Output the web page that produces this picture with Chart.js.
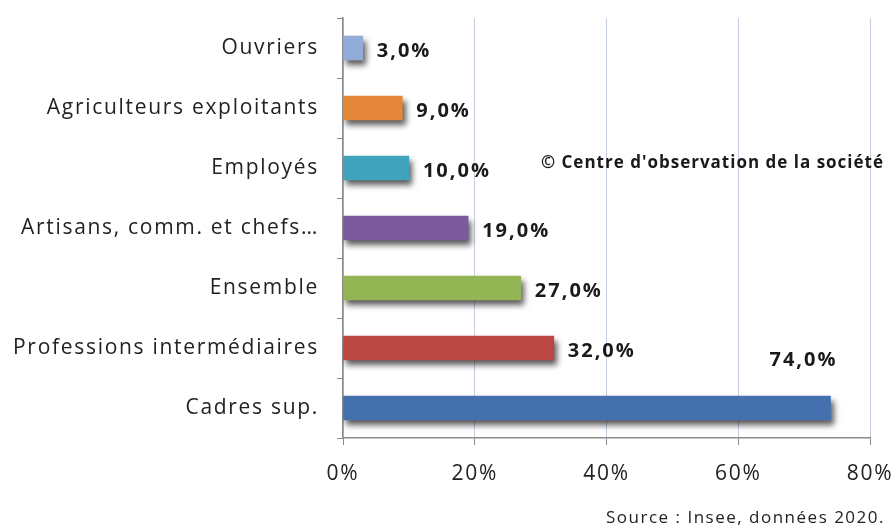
<!DOCTYPE html>
<html>
<head>
<meta charset="utf-8">
<script src="https://cdn.jsdelivr.net/npm/chart.js@4"></script>
<style>
  html, body { margin: 0; padding: 0; background: #ffffff; }
  #wrap { position: relative; width: 896px; height: 529px; }
  #grafico { display: block; }
</style>
</head>
<body>
<div id="wrap"><canvas id="grafico" width="896" height="529"></canvas></div>
<script>
// categories (top to bottom) and values in %
const categorias = ['Ouvriers', 'Agriculteurs exploitants', 'Employés', 'Artisans, comm. et chefs…', 'Ensemble', 'Professions intermédiaires', 'Cadres sup.'];
const valores = [3, 9, 10, 19, 27, 32, 74];
const colores = ['#92acd9', '#e4873a', '#3fa3bd', '#7b5b9e', '#93b554', '#bb4743', '#4470ae'];
const ticksX = [0, 20, 40, 60, 80];
const copyright = "© Centre d'observation de la société";
const fuente = 'Source : Insee, données 2020.';

const fontFam = "'Open Sans', sans-serif";
Chart.defaults.color = '#222222';

// espaciado de letras (el original es más ancho)
const espaciado = {
  id: 'espaciado',
  beforeLayout(chart) { chart.ctx.letterSpacing = '1.7px'; },
  beforeDraw(chart) { chart.ctx.letterSpacing = '1.7px'; }
};

// sombra bajo las barras
const sombra = {
  id: 'sombra',
  beforeDatasetDraw(chart) {
    const ctx = chart.ctx;
    ctx.save();
    ctx.shadowColor = 'rgba(0,0,0,0.65)';
    ctx.shadowBlur = 6;
    ctx.shadowOffsetX = 3;
    ctx.shadowOffsetY = 5;
  },
  afterDatasetDraw(chart) {
    chart.ctx.restore();
  }
};

// etiquetas de valor + textos
const etiquetas = {
  id: 'etiquetas',
  afterDatasetsDraw(chart) {
    const ctx = chart.ctx;
    const meta = chart.getDatasetMeta(0);
    ctx.save();
    ctx.font = 'bold 20px ' + fontFam;
    ctx.letterSpacing = '2px';
    ctx.fillStyle = '#1a1a1a';
    ctx.textBaseline = 'middle';
    meta.data.forEach((bar, i) => {
      const txt = valores[i].toFixed(1).replace('.', ',') + '%';
      const w = ctx.measureText(txt).width;
      if (bar.x + 14 + w > chart.chartArea.right) {
        ctx.textAlign = 'center';
        ctx.fillText(txt, bar.x - 27, bar.y - 48);
      } else {
        ctx.textAlign = 'left';
        ctx.fillText(txt, bar.x + 14, bar.y + 3);
      }
    });
    ctx.font = 'bold 17px ' + fontFam;
    ctx.letterSpacing = '1px';
    ctx.textAlign = 'right';
    ctx.fillText(copyright, 884, 163);
    ctx.font = '17px ' + fontFam;
    ctx.letterSpacing = '1.5px';
    ctx.fillStyle = '#222222';
    ctx.fillText(fuente, 885, 518);
    ctx.restore();
  }
};

const config = {
  type: 'bar',
  data: {
    labels: categorias,
    datasets: [{
      data: valores,
      backgroundColor: colores,
      borderWidth: 0,
      barThickness: 24
    }]
  },
  options: {
    indexAxis: 'y',
    responsive: false,
    animation: false,
    layout: { padding: { top: 18, right: 26, left: 0, bottom: 0 } },
    plugins: { legend: { display: false }, tooltip: { enabled: false } },
    scales: {
      x: {
        min: 0, max: 80,
        afterBuildTicks: s => { s.ticks = ticksX.map(v => ({ value: v })); },
        afterFit: s => { s.height = 91; s.paddingLeft = 0; s.paddingRight = 0; },
        grid: { color: '#c3cfdf', tickLength: 7, tickColor: '#8a8a8a' },
        border: { color: '#8a8a8a', width: 1.5 },
        ticks: { font: { family: fontFam, size: 21 }, color: '#222', padding: 16, callback: v => v + '%' }
      },
      y: {
        afterFit: s => { s.width = 343; s.paddingTop = 0; s.paddingBottom = 0; },
        grid: { drawOnChartArea: false, offset: true, tickLength: 6, tickColor: '#8a8a8a' },
        border: { color: '#8a8a8a', width: 1.5 },
        ticks: { font: { family: fontFam, size: 21 }, color: '#222', padding: 18 }
      }
    }
  },
  plugins: [espaciado, sombra, etiquetas]
};

const grafico = new Chart(document.querySelector('#grafico'), config);
</script>
</body>
</html>
